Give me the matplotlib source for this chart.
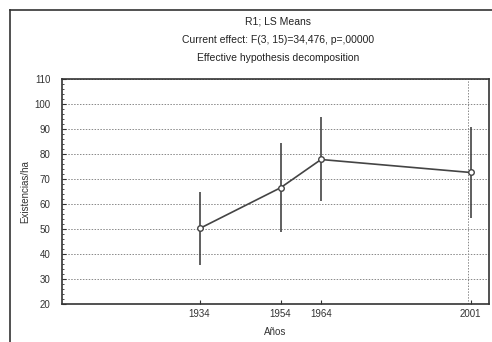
import matplotlib
matplotlib.use("Agg")
import matplotlib.pyplot as plt
from matplotlib.lines import Line2D

years = [1934, 1954, 1964, 2001]
means = [50.2, 66.5, 77.8, 72.6]
lower = [35.5, 48.9, 61.2, 54.3]
upper = [64.8, 84.2, 94.8, 90.9]
yticks = [20, 30, 40, 50, 60, 70, 80, 90, 100, 110]
titles = ["R1; LS Means",
          "Current effect: F(3, 15)=34,476, p=,00000",
          "Effective hypothesis decomposition"]
xlabel = "Años"
ylabel = "Existencias/ha"

plt.rcParams['font.family'] = ['Liberation Sans', 'DejaVu Sans']
fig = plt.figure(figsize=(4.92, 3.42), dpi=100)
ax = fig.add_axes([62/492, 1-304/342, (489-62)/492, (304-79)/342])

# outer frame
fig.add_artist(Line2D([10/492, 10/492], [0, 1-10/342], color='#333333', lw=1.2, transform=fig.transFigure))
fig.add_artist(Line2D([10/492, 1], [1-10/342, 1-10/342], color='#333333', lw=1.2, transform=fig.transFigure))

ax.set_xlim(1900, 2005.5)
ax.set_ylim(20, 110)
ax.set_yticks(yticks)
ax.set_xticks(years)
ax.set_xticklabels([str(y) for y in years])
ax.yaxis.grid(True, linestyle=(0, (1.5, 1.5)), color='#888888', lw=0.7)
ax.axvline(2000.3, linestyle=(0, (1.5, 1.5)), color='#888888', lw=0.7)

yerr = [[m - l for m, l in zip(means, lower)], [u - m for m, u in zip(means, upper)]]
ax.errorbar(years, means, yerr=yerr, fmt='-o', color='#444444', lw=1.2,
            elinewidth=1.2, capsize=0, markersize=4, markerfacecolor='white',
            markeredgecolor='#444444', markeredgewidth=1)

ax.minorticks_on()
ax.xaxis.set_minor_locator(matplotlib.ticker.NullLocator())
ax.yaxis.set_minor_locator(matplotlib.ticker.MultipleLocator(2))
ax.tick_params(axis='both', which='major', labelsize=7, length=3, direction='in', colors='#333333', labelcolor='#333333')
ax.tick_params(axis='y', which='major', pad=8.5)
ax.tick_params(axis='y', which='minor', length=1.5, direction='in', colors='#333333')
for s in ax.spines.values():
    s.set_color('#333333')
    s.set_linewidth(1.2)

ax.set_xlabel(xlabel, fontsize=7, color='#333333', labelpad=6)
ax.set_ylabel(ylabel, fontsize=7, color='#333333', labelpad=3)

cx = (62 + 489) / 2 / 492
for i, t in enumerate(titles):
    fig.text(cx + 0.005, 1 - (22 + 18 * i) / 342, t, ha='center', va='center', fontsize=7.5, color='#222222')

fig.savefig("out.png", dpi=100)
